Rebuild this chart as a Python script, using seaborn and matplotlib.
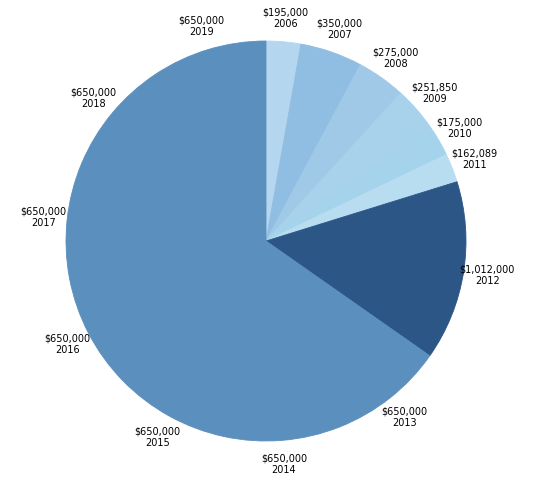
import matplotlib
matplotlib.use("Agg")
import matplotlib.pyplot as plt
import seaborn as sns

years = ["2006", "2007", "2008", "2009", "2010", "2011", "2012",
         "2013", "2014", "2015", "2016", "2017", "2018", "2019"]
amounts = [195000, 350000, 275000, 251850, 175000, 162089, 1012000,
           650000, 650000, 650000, 650000, 650000, 650000, 650000]
colors = ["#b5d6ef", "#90bde2", "#a0c9e7", "#a8d1eb", "#a5d3ec", "#b9ddf0", "#2b5686"] + ["#5b8fbe"] * 7

sns.set_style("white")
plt.rcParams["font.family"] = ["DejaVu Sans"]

fig = plt.figure(figsize=(5.34, 4.93), dpi=100)
# pie centre ~ (266, 241) px, radius ~200 px
ax = fig.add_axes([(266 - 200) / 534, (493 - 241 - 200) / 493, 400 / 534, 400 / 493])
labels = [f"${v:,}\n{y}" for y, v in zip(years, amounts)]
wedges, texts = ax.pie(amounts, labels=labels, colors=colors, startangle=90, counterclock=False,
                       labeldistance=1.12, radius=1.0,
                       textprops={"fontsize": 7, "ha": "center", "va": "center", "color": "black"},
                       wedgeprops={"linewidth": 0.6})
for w, c in zip(wedges, colors):
    w.set_edgecolor(c)
ax.set_xlim(-1, 1)
ax.set_ylim(-1, 1)
ax.set_aspect("equal")
fig.savefig("out.png", dpi=100)
